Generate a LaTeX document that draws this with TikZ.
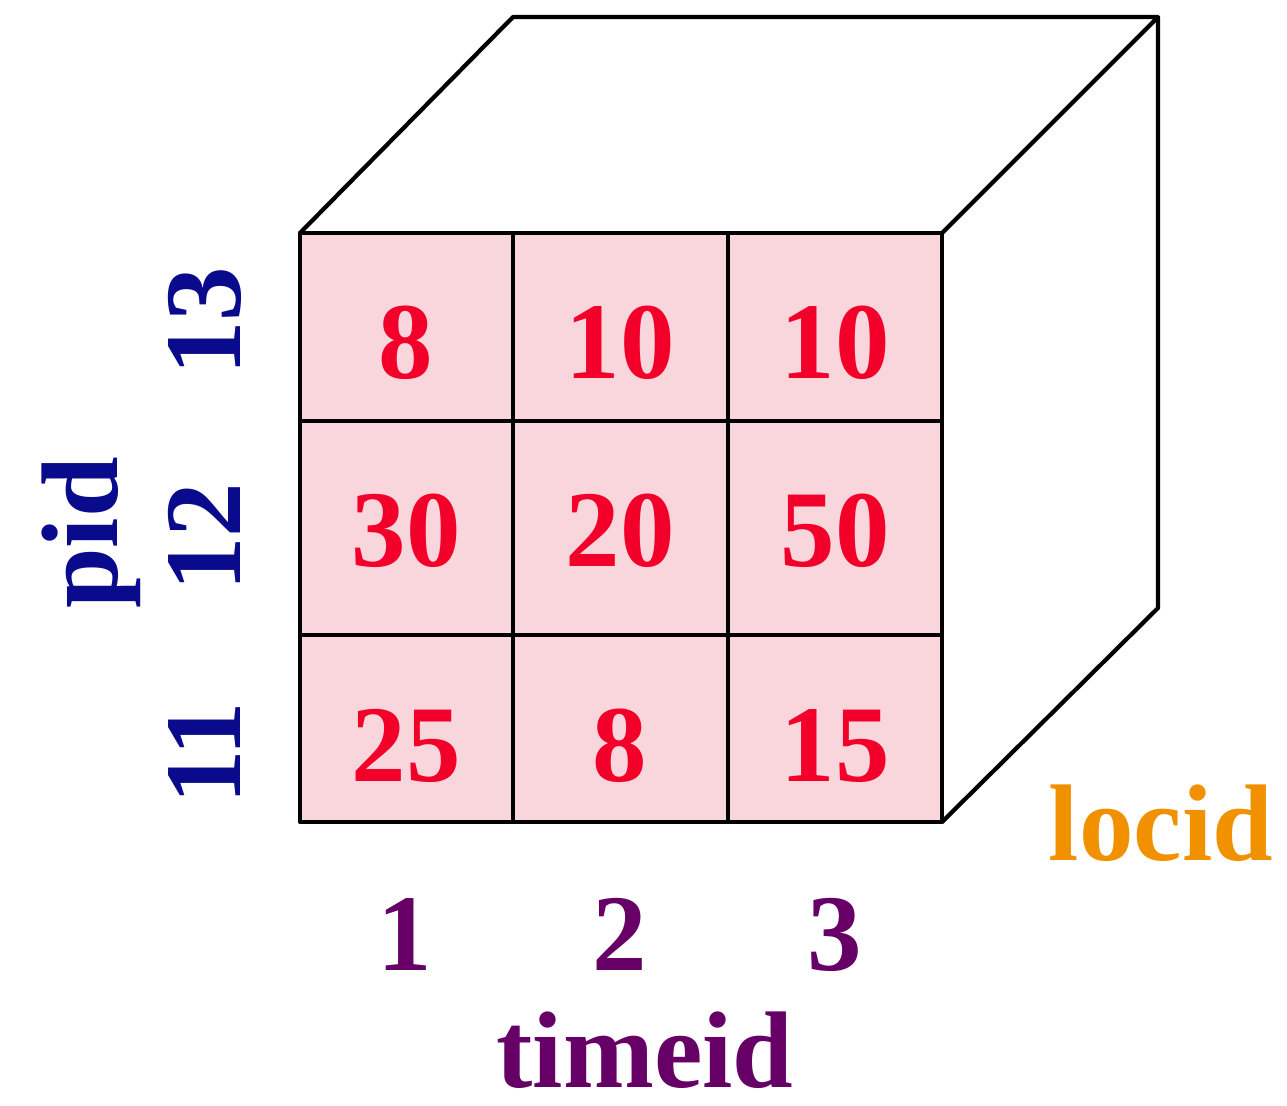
\documentclass[tikz,border=0pt]{standalone}
\usepackage{fontspec}
\setmainfont{Liberation Serif}
\usepackage{xcolor}
\definecolor{cellpink}{HTML}{F9D5DC}
\definecolor{valred}{HTML}{F2002A}
\definecolor{pidblue}{HTML}{0A0A8C}
\definecolor{timepurple}{HTML}{660066}
\definecolor{locorange}{HTML}{F29100}

\begin{document}
\begin{tikzpicture}[x=0.01cm, y=-0.01cm,
    edge/.style={line width=1.2pt, line join=round},
    cell/.style={edge, fill=cellpink},
    big/.style={font=\fontsize{31}{36}\selectfont\bfseries, inner sep=0pt, anchor=base},
    val/.style={big, text=valred},
    pidlab/.style={big, text=pidblue, rotate=90},
    timelab/.style={big, text=timepurple},
    loclab/.style={big, text=locorange},
  ]
  \useasboundingbox (0,0) rectangle (1287,1105);
  % cube corners
  \coordinate (fnw) at (300,233);
  \coordinate (fne) at (942,233);
  \coordinate (fse) at (942,822);
  \coordinate (bnw) at (513,17);
  \coordinate (bne) at (1158,17);
  \coordinate (bse) at (1158,608);
  % top and right faces
  \draw[edge] (fnw) -- (bnw) -- (bne) -- (fne);
  \draw[edge] (bne) -- (bse) -- (fse);
  % front cells
  \foreach \xa/\xb in {300/513, 513/728, 728/942} {
    \foreach \ya/\yb in {233/421, 421/635, 635/822} {
      \draw[cell] (\xa,\ya) rectangle (\xb,\yb);
    }
  }
  % values
  \foreach \r/\y/\va/\vb/\vc in {1/378/8/10/10, 2/566/30/20/50, 3/781/25/8/15} {
    \node[val] (v\r a) at (406,\y) {\va};
    \node[val] (v\r b) at (620,\y) {\vb};
    \node[val] (v\r c) at (835,\y) {\vc};
  }
  % pid axis
  \foreach \y/\t in {321/13, 537/12, 753/11} {
    \node[pidlab] (p\t) at (240,\y) {\t};
  }
  \node[pidlab] (pid) at (117,533) {pid};
  % timeid axis
  \foreach \x/\t in {405/1, 620/2, 835/3} {
    \node[timelab] (t\t) at (\x,970) {\t};
  }
  \node[timelab] (timeid) at (645,1087) {timeid};
  % locid axis
  \node[loclab] (locid) at (1161,860) {locid};
\end{tikzpicture}
\end{document}
